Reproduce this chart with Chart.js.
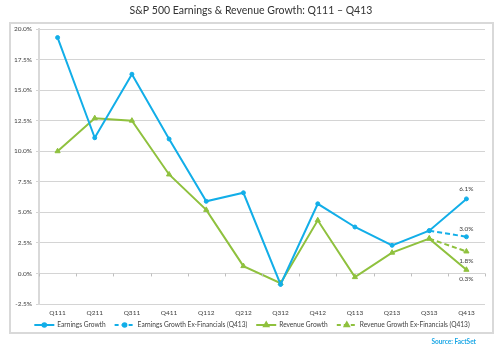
<!DOCTYPE html>
<html>
<head>
<meta charset="utf-8">
<script src="https://cdn.jsdelivr.net/npm/chart.js@4.4.1/dist/chart.umd.min.js"></script>
<style>
  html, body { margin: 0; padding: 0; background: #fff; }
  #wrap { width: 499px; height: 350px; position: relative; }
</style>
</head>
<body>
<div id="wrap"><canvas id="grafico" width="499" height="350"></canvas></div>
<script>
/* ======================================================
   DADOS
====================================================== */
const trimestres = ["Q111","Q211","Q311","Q411","Q112","Q212","Q312","Q412","Q113","Q213","Q313","Q413"];
const lucros = [19.3, 11.1, 16.3, 11.0, 5.9, 6.6, -0.9, 5.7, 3.8, 2.3, 3.5, 6.1];
const lucrosExFin = [null, null, null, null, null, null, null, null, null, null, 3.5, 3.0];
const receita = [10.0, 12.7, 12.5, 8.1, 5.2, 0.6, -0.8, 4.35, -0.3, 1.7, 2.85, 0.3];
const receitaExFin = [null, null, null, null, null, null, null, null, null, null, 2.85, 1.8];
const rotulosFinais = ["6.1%", "3.0%", "0.3%", "1.8%"];

const titulo = "S&P 500 Earnings & Revenue Growth: Q111 \u2013 Q413";
const fonte = "Source: FactSet";

/* ======================================================
   CORES
====================================================== */
const CORES = {
  azul: "#12aee8",
  verde: "#8fc13e",
  grade: "#d4d4d4",
  texto: "#404040",
  moldura: "#d9d9d9"
};
const FONTE = "Lato, 'Open Sans', sans-serif";

/* ======================================================
   PLUGINS
====================================================== */
const moldura = {
  id: "moldura",
  beforeDraw(chart) {
    const c = chart.ctx;
    c.save();
    c.strokeStyle = CORES.moldura;
    c.lineWidth = 2;
    c.strokeRect(10, 23, 483, 310);
    c.restore();
  },
  afterDraw(chart) {
    const c = chart.ctx;
    const x = chart.scales.x, y = chart.scales.y;
    c.save();
    // titulo
    c.fillStyle = "#333";
    c.font = "10.5px " + FONTE;
    c.textAlign = "center";
    c.textBaseline = "middle";
    c.fillText(titulo, 251, 11);

    // marcas do eixo x sobre o zero
    const y0 = y.getPixelForValue(0);
    c.strokeStyle = "#bfbfbf";
    c.lineWidth = 1;
    for (let i = 0; i <= trimestres.length; i++) {
      const px = Math.round(x.getPixelForValue(i - 0.5)) + 0.5;
      c.beginPath();
      c.moveTo(px, y0);
      c.lineTo(px, y0 + 3);
      c.stroke();
    }

    // rotulos finais
    c.font = "6.5px " + FONTE;
    c.fillStyle = CORES.texto;
    const ult = trimestres.length - 1;
    const ptos = [
      [0, -10], [1, -8], [2, 9], [3, 9]
    ];
    ptos.forEach(([ds, dy], i) => {
      const p = chart.getDatasetMeta(ds).data[ult];
      c.fillText(rotulosFinais[i], p.x, p.y + dy);
    });

    // legenda
    const itens = [
      { t: "Earnings Growth", cor: CORES.azul, tr: false, estilo: "circle" },
      { t: "Earnings Growth Ex-Financials (Q413)", cor: CORES.azul, tr: true, estilo: "circle" },
      { t: "Revenue Growth", cor: CORES.verde, tr: false, estilo: "triangle" },
      { t: "Revenue Growth Ex-Financials (Q413)", cor: CORES.verde, tr: true, estilo: "triangle" }
    ];
    const ly = 325;
    c.textAlign = "left";
    c.font = "6.6px " + FONTE;
    const linha = 20, esp = 3, gap = 9;
    let total = 0;
    itens.forEach(it => { it.w = c.measureText(it.t).width; total += linha + esp + it.w; });
    total += gap * (itens.length - 1);
    let lx = 252 - total / 2;
    itens.forEach(it => {
      c.strokeStyle = it.cor;
      c.fillStyle = it.cor;
      c.lineWidth = 2;
      c.setLineDash(it.tr ? [4, 3] : []);
      c.beginPath();
      c.moveTo(lx, ly);
      c.lineTo(lx + linha, ly);
      c.stroke();
      c.setLineDash([]);
      Chart.helpers.drawPoint(c, { pointStyle: it.estilo, radius: it.estilo === "triangle" ? 2.5 : 1.8, borderWidth: 1 }, lx + linha / 2, ly);
      c.fillStyle = CORES.texto;
      c.fillText(it.t, lx + linha + esp, ly);
      lx += linha + esp + it.w + gap;
    });

    // fonte
    c.font = "bold 6.5px " + FONTE;
    c.fillStyle = "#1aa7e6";
    c.textAlign = "right";
    c.fillText(fonte, 476, 342);
    c.restore();
  }
};

/* ======================================================
   GRAFICO
====================================================== */
function serie(label, dados, cor, tracejado, estilo) {
  return {
    label,
    data: dados,
    borderColor: cor,
    backgroundColor: cor,
    borderWidth: 2,
    borderDash: tracejado ? [5, 3] : [],
    pointStyle: estilo,
    pointRadius: estilo === "triangle" ? 3 : 2,
    pointBorderWidth: 1,
    pointHoverRadius: 0,
    spanGaps: false,
    tension: 0
  };
}

new Chart(document.getElementById("grafico"), {
  type: "line",
  data: {
    labels: trimestres,
    datasets: [
      serie("Earnings Growth", lucros, CORES.azul, false, "circle"),
      serie("Earnings Growth Ex-Financials (Q413)", lucrosExFin, CORES.azul, true, "circle"),
      serie("Revenue Growth", receita, CORES.verde, false, "triangle"),
      serie("Revenue Growth Ex-Financials (Q413)", receitaExFin, CORES.verde, true, "triangle")
    ]
  },
  options: {
    responsive: false,
    animation: false,
    layout: { padding: { top: 29, right: 14, left: 0, bottom: 0 } },
    plugins: {
      legend: { display: false },
      title: { display: false },
      tooltip: { enabled: false }
    },
    scales: {
      x: {
        offset: true,
        grid: { display: false, drawTicks: false },
        border: { display: false },
        ticks: { color: CORES.texto, font: { size: 6.5, family: FONTE }, padding: 5, maxRotation: 0, autoSkip: false },
        afterFit(s) { s.height = 46; }
      },
      y: {
        min: -2.5,
        max: 20,
        ticks: {
          stepSize: 2.5,
          color: CORES.texto,
          font: { size: 6.5, family: FONTE },
          padding: 4,
          callback: v => v.toFixed(1) + "%"
        },
        grid: { color: CORES.grade, tickLength: 3 },
        border: { color: CORES.moldura, width: 2 },
        afterFit(s) { s.width = 39; }
      }
    }
  },
  plugins: [moldura]
});
</script>
</body>
</html>
